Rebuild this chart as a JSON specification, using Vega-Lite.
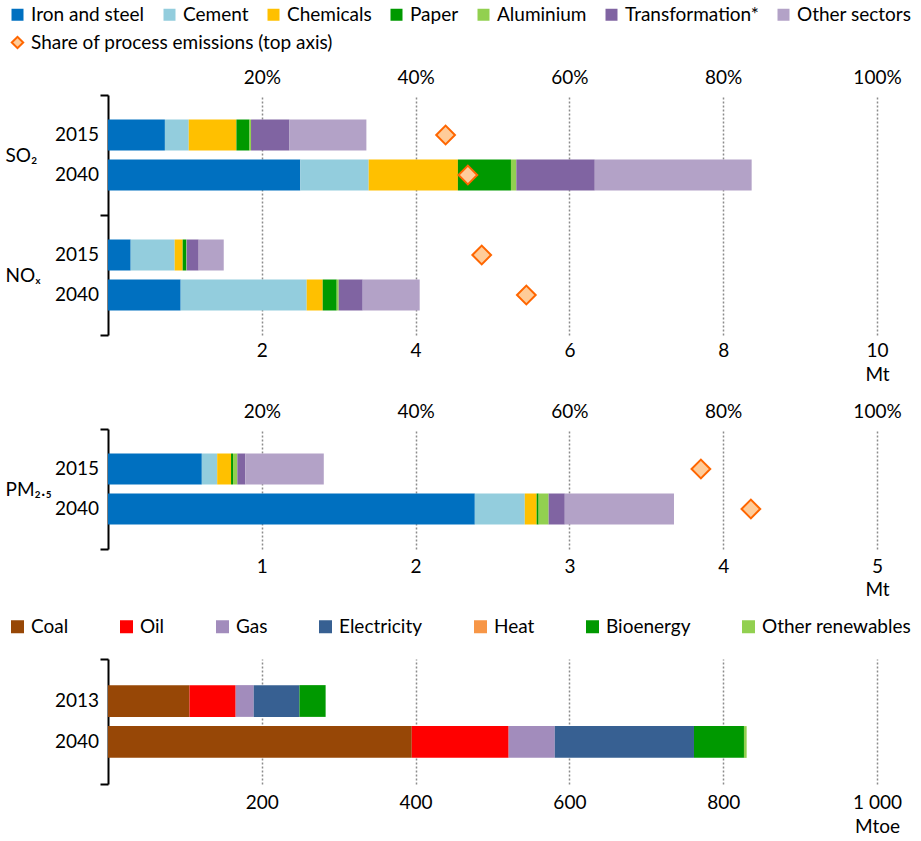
{
  "$schema": "https://vega.github.io/schema/vega-lite/v6.json",
  "background": "white",
  "padding": {"left": 5, "top": 5, "right": 5, "bottom": 0},
  "config": {
    "font": "Lato",
    "view": {"stroke": null},
    "axis": {"labelFont": "Lato", "labelFontSize": 19, "labelColor": "#000", "title": null},
    "legend": {"labelFont": "Lato", "labelFontSize": 19, "labelColor": "#000", "labelLimit": 500},
    "concat": {"spacing": 18}
  },
  "datasets": {
    "emissions": [
      {"pollutant": "SO₂", "year": "2015", "sector": "Iron and steel", "value": 0.74},
      {"pollutant": "SO₂", "year": "2015", "sector": "Cement", "value": 0.31},
      {"pollutant": "SO₂", "year": "2015", "sector": "Chemicals", "value": 0.62},
      {"pollutant": "SO₂", "year": "2015", "sector": "Paper", "value": 0.17},
      {"pollutant": "SO₂", "year": "2015", "sector": "Aluminium", "value": 0.02},
      {"pollutant": "SO₂", "year": "2015", "sector": "Transformation*", "value": 0.5},
      {"pollutant": "SO₂", "year": "2015", "sector": "Other sectors", "value": 1.0},
      {"pollutant": "SO₂", "year": "2040", "sector": "Iron and steel", "value": 2.5},
      {"pollutant": "SO₂", "year": "2040", "sector": "Cement", "value": 0.89},
      {"pollutant": "SO₂", "year": "2040", "sector": "Chemicals", "value": 1.16},
      {"pollutant": "SO₂", "year": "2040", "sector": "Paper", "value": 0.69},
      {"pollutant": "SO₂", "year": "2040", "sector": "Aluminium", "value": 0.07},
      {"pollutant": "SO₂", "year": "2040", "sector": "Transformation*", "value": 1.02},
      {"pollutant": "SO₂", "year": "2040", "sector": "Other sectors", "value": 2.04},
      {"pollutant": "NOₓ", "year": "2015", "sector": "Iron and steel", "value": 0.295},
      {"pollutant": "NOₓ", "year": "2015", "sector": "Cement", "value": 0.572},
      {"pollutant": "NOₓ", "year": "2015", "sector": "Chemicals", "value": 0.104},
      {"pollutant": "NOₓ", "year": "2015", "sector": "Paper", "value": 0.047},
      {"pollutant": "NOₓ", "year": "2015", "sector": "Aluminium", "value": 0.005},
      {"pollutant": "NOₓ", "year": "2015", "sector": "Transformation*", "value": 0.156},
      {"pollutant": "NOₓ", "year": "2015", "sector": "Other sectors", "value": 0.326},
      {"pollutant": "NOₓ", "year": "2040", "sector": "Iron and steel", "value": 0.945},
      {"pollutant": "NOₓ", "year": "2040", "sector": "Cement", "value": 1.639},
      {"pollutant": "NOₓ", "year": "2040", "sector": "Chemicals", "value": 0.208},
      {"pollutant": "NOₓ", "year": "2040", "sector": "Paper", "value": 0.182},
      {"pollutant": "NOₓ", "year": "2040", "sector": "Aluminium", "value": 0.026},
      {"pollutant": "NOₓ", "year": "2040", "sector": "Transformation*", "value": 0.312},
      {"pollutant": "NOₓ", "year": "2040", "sector": "Other sectors", "value": 0.741},
      {"pollutant": "PM₂.₅", "year": "2015", "sector": "Iron and steel", "value": 0.61},
      {"pollutant": "PM₂.₅", "year": "2015", "sector": "Cement", "value": 0.1},
      {"pollutant": "PM₂.₅", "year": "2015", "sector": "Chemicals", "value": 0.09},
      {"pollutant": "PM₂.₅", "year": "2015", "sector": "Paper", "value": 0.013},
      {"pollutant": "PM₂.₅", "year": "2015", "sector": "Aluminium", "value": 0.028},
      {"pollutant": "PM₂.₅", "year": "2015", "sector": "Transformation*", "value": 0.052},
      {"pollutant": "PM₂.₅", "year": "2015", "sector": "Other sectors", "value": 0.51},
      {"pollutant": "PM₂.₅", "year": "2040", "sector": "Iron and steel", "value": 2.385},
      {"pollutant": "PM₂.₅", "year": "2040", "sector": "Cement", "value": 0.325},
      {"pollutant": "PM₂.₅", "year": "2040", "sector": "Chemicals", "value": 0.077},
      {"pollutant": "PM₂.₅", "year": "2040", "sector": "Paper", "value": 0.013},
      {"pollutant": "PM₂.₅", "year": "2040", "sector": "Aluminium", "value": 0.065},
      {"pollutant": "PM₂.₅", "year": "2040", "sector": "Transformation*", "value": 0.105},
      {"pollutant": "PM₂.₅", "year": "2040", "sector": "Other sectors", "value": 0.71}
    ],
    "shares": [
      {"pollutant": "SO₂", "year": "2015", "share": 43.9},
      {"pollutant": "SO₂", "year": "2040", "share": 46.8},
      {"pollutant": "NOₓ", "year": "2015", "share": 48.6},
      {"pollutant": "NOₓ", "year": "2040", "share": 54.4},
      {"pollutant": "PM₂.₅", "year": "2015", "share": 77.1},
      {"pollutant": "PM₂.₅", "year": "2040", "share": 83.6}
    ],
    "energy": [
      {"year": "2013", "fuel": "Coal", "value": 106},
      {"year": "2013", "fuel": "Oil", "value": 60},
      {"year": "2013", "fuel": "Gas", "value": 23.5},
      {"year": "2013", "fuel": "Electricity", "value": 59.5},
      {"year": "2013", "fuel": "Heat", "value": 0},
      {"year": "2013", "fuel": "Bioenergy", "value": 34},
      {"year": "2013", "fuel": "Other renewables", "value": 0},
      {"year": "2040", "fuel": "Coal", "value": 395},
      {"year": "2040", "fuel": "Oil", "value": 126},
      {"year": "2040", "fuel": "Gas", "value": 60},
      {"year": "2040", "fuel": "Electricity", "value": 181},
      {"year": "2040", "fuel": "Heat", "value": 0},
      {"year": "2040", "fuel": "Bioenergy", "value": 65},
      {"year": "2040", "fuel": "Other renewables", "value": 3.5}
    ]
  },
  "resolve": {
    "scale": {"color": "independent", "x": "independent", "y": "independent", "shape": "independent", "fill": "independent", "stroke": "independent", "yOffset": "independent"},
    "legend": {"color": "independent", "shape": "independent", "fill": "independent", "stroke": "independent"}
  },
  "vconcat": [
    {
      "width": 769,
      "height": 240,
      "layer": [
        {
          "data": {"name": "emissions"},
          "transform": [
            {"filter": {"field": "pollutant", "oneOf": ["SO₂", "NOₓ"]}},
            {"calculate": "indexof(['Iron and steel','Cement','Chemicals','Paper','Aluminium','Transformation*','Other sectors'], datum.sector)", "as": "k"}
          ],
          "mark": {"type": "bar"},
          "encoding": {
            "y": {"field": "pollutant", "type": "nominal", "sort": ["SO₂", "NOₓ"],
              "scale": {"paddingInner": 0, "paddingOuter": 0},
              "axis": {"orient": "left", "domain": true, "domainColor": "#000", "domainWidth": 2, "ticks": true, "tickBand": "extent", "tickColor": "#000", "tickWidth": 2, "tickSize": 8, "labelAlign": "left", "labelPadding": 95, "labelFontSize": 19, "grid": false, "title": null}},
            "yOffset": {"field": "year", "type": "nominal", "scale": {"paddingInner": 0.225, "paddingOuter": 0.6125}},
            "x": {"field": "value", "type": "quantitative", "stack": "zero", "scale": {"domain": [0, 10], "nice": false},
              "axis": {"orient": "bottom", "values": [2, 4, 6, 8, 10], "labelExpr": "datum.value == 10 ? ['10', 'Mt'] : datum.label", "ticks": false, "domain": false, "grid": true, "gridColor": "#8c8c8c", "gridDash": [2, 2], "gridWidth": 1.5, "labelPadding": 6, "labelLineHeight": 24, "labelFlush": false, "labelOverlap": false, "title": null}},
            "color": {"field": "sector", "type": "nominal",
              "scale": {"domain": ["Iron and steel", "Cement", "Chemicals", "Paper", "Aluminium", "Transformation*", "Other sectors"],
                "range": ["#0070C0", "#93CDDD", "#FFC000", "#009900", "#92D050", "#8064A2", "#B3A2C7"]},
              "legend": {"orient": "none", "legendX": -100, "legendY": -90, "title": null, "direction": "horizontal", "columns": 7, "columnPadding": 15, "symbolType": "square", "symbolSize": 144, "symbolStrokeWidth": 0, "labelOffset": 4}},
            "order": {"field": "k", "type": "quantitative"}
          }
        },
        {
          "data": {"name": "shares"},
          "transform": [{"filter": {"field": "pollutant", "oneOf": ["SO₂", "NOₓ"]}}],
          "mark": {"type": "point", "filled": true, "strokeWidth": 2, "size": 350, "opacity": 1},
          "encoding": {
            "y": {"field": "pollutant", "type": "nominal", "sort": ["SO₂", "NOₓ"]},
            "yOffset": {"field": "year", "type": "nominal"},
            "x": {"field": "share", "type": "quantitative", "scale": {"domain": [0, 100], "nice": false},
              "axis": {"orient": "top", "values": [20, 40, 60, 80, 100], "labelExpr": "datum.value + '%'", "ticks": false, "domain": false, "grid": false, "labelPadding": 8, "labelFlush": false, "labelOverlap": false, "title": null}},
            "shape": {"datum": "Share of process emissions (top axis)", "type": "nominal", "scale": {"range": ["diamond"]},
              "legend": {"orient": "none", "legendX": -100, "legendY": -62, "title": null, "symbolStrokeWidth": 2, "symbolSize": 130, "labelOffset": 4}},
            "fill": {"datum": "Share of process emissions (top axis)", "type": "nominal", "scale": {"range": ["#FFCC99"]},
              "legend": {"orient": "none", "legendX": -100, "legendY": -62, "title": null, "symbolStrokeWidth": 2, "symbolSize": 130, "labelOffset": 4}},
            "stroke": {"datum": "Share of process emissions (top axis)", "type": "nominal", "scale": {"range": ["#FF6600"]},
              "legend": {"orient": "none", "legendX": -100, "legendY": -62, "title": null, "symbolStrokeWidth": 2, "symbolSize": 130, "labelOffset": 4}}
          }
        },
        {
          "data": {"name": "shares"},
          "transform": [{"filter": {"field": "pollutant", "oneOf": ["SO₂", "NOₓ"]}}],
          "mark": {"type": "text", "align": "right", "baseline": "middle", "dx": -9, "fontSize": 19, "font": "Lato", "color": "#000"},
          "encoding": {
            "y": {"field": "pollutant", "type": "nominal", "sort": ["SO₂", "NOₓ"]},
            "yOffset": {"field": "year", "type": "nominal"},
            "x": {"datum": 0, "type": "quantitative", "scale": {"domain": [0, 10], "nice": false}, "axis": null},
            "text": {"field": "year"}
          }
        }
      ],
      "resolve": {"scale": {"x": "independent"}, "axis": {"x": "independent"}}
    },
    {
      "width": 769,
      "height": 120,
      "layer": [
        {
          "data": {"name": "emissions"},
          "transform": [
            {"filter": {"field": "pollutant", "equal": "PM₂.₅"}},
            {"calculate": "indexof(['Iron and steel','Cement','Chemicals','Paper','Aluminium','Transformation*','Other sectors'], datum.sector)", "as": "k"}
          ],
          "mark": {"type": "bar"},
          "encoding": {
            "y": {"field": "pollutant", "type": "nominal",
              "scale": {"paddingInner": 0, "paddingOuter": 0},
              "axis": {"orient": "left", "domain": true, "domainColor": "#000", "domainWidth": 2, "ticks": true, "tickBand": "extent", "tickColor": "#000", "tickWidth": 2, "tickSize": 8, "labelAlign": "left", "labelPadding": 95, "labelFontSize": 19, "grid": false, "title": null}},
            "yOffset": {"field": "year", "type": "nominal", "scale": {"paddingInner": 0.225, "paddingOuter": 0.6125}},
            "x": {"field": "value", "type": "quantitative", "stack": "zero", "scale": {"domain": [0, 5], "nice": false},
              "axis": {"orient": "bottom", "values": [1, 2, 3, 4, 5], "labelExpr": "datum.value == 5 ? ['5', 'Mt'] : datum.label", "ticks": false, "domain": false, "grid": true, "gridColor": "#8c8c8c", "gridDash": [2, 2], "gridWidth": 1.5, "labelPadding": 8, "labelLineHeight": 23, "labelFlush": false, "labelOverlap": false, "title": null}},
            "color": {"field": "sector", "type": "nominal",
              "scale": {"domain": ["Iron and steel", "Cement", "Chemicals", "Paper", "Aluminium", "Transformation*", "Other sectors"],
                "range": ["#0070C0", "#93CDDD", "#FFC000", "#009900", "#92D050", "#8064A2", "#B3A2C7"]},
              "legend": null},
            "order": {"field": "k", "type": "quantitative"}
          }
        },
        {
          "data": {"name": "shares"},
          "transform": [{"filter": {"field": "pollutant", "equal": "PM₂.₅"}}],
          "mark": {"type": "point", "shape": "diamond", "filled": true, "fill": "#FFCC99", "stroke": "#FF6600", "strokeWidth": 2, "size": 350, "opacity": 1},
          "encoding": {
            "y": {"field": "pollutant", "type": "nominal"},
            "yOffset": {"field": "year", "type": "nominal"},
            "x": {"field": "share", "type": "quantitative", "scale": {"domain": [0, 100], "nice": false},
              "axis": {"orient": "top", "values": [20, 40, 60, 80, 100], "labelExpr": "datum.value + '%'", "ticks": false, "domain": false, "grid": false, "labelPadding": 8, "labelFlush": false, "labelOverlap": false, "title": null}}
          }
        },
        {
          "data": {"name": "shares"},
          "transform": [{"filter": {"field": "pollutant", "equal": "PM₂.₅"}}],
          "mark": {"type": "text", "align": "right", "baseline": "middle", "dx": -9, "fontSize": 19, "font": "Lato", "color": "#000"},
          "encoding": {
            "y": {"field": "pollutant", "type": "nominal"},
            "yOffset": {"field": "year", "type": "nominal"},
            "x": {"datum": 0, "type": "quantitative", "scale": {"domain": [0, 5], "nice": false}, "axis": null},
            "text": {"field": "year"}
          }
        }
      ],
      "resolve": {"scale": {"x": "independent"}, "axis": {"x": "independent"}}
    },
    {
      "width": 769,
      "height": 125,
      "layer": [
        {
          "data": {"name": "energy"},
          "transform": [
            {"calculate": "indexof(['Coal','Oil','Gas','Electricity','Heat','Bioenergy','Other renewables'], datum.fuel)", "as": "k"}
          ],
          "mark": {"type": "bar"},
          "encoding": {
            "y": {"datum": "energy", "type": "nominal",
              "scale": {"paddingInner": 0, "paddingOuter": 0},
              "axis": {"orient": "left", "domain": true, "domainColor": "#000", "domainWidth": 2, "ticks": true, "tickBand": "extent", "tickColor": "#000", "tickWidth": 2, "tickSize": 8, "labels": false, "grid": false, "title": null}},
            "yOffset": {"field": "year", "type": "nominal", "scale": {"paddingInner": 0.225, "paddingOuter": 0.6375}},
            "x": {"field": "value", "type": "quantitative", "stack": "zero", "scale": {"domain": [0, 1000], "nice": false},
              "axis": {"orient": "bottom", "values": [200, 400, 600, 800, 1000], "labelExpr": "datum.value == 1000 ? ['1 000', 'Mtoe'] : datum.label", "ticks": false, "domain": false, "grid": true, "gridColor": "#8c8c8c", "gridDash": [2, 2], "gridWidth": 1.5, "labelPadding": 9, "labelLineHeight": 24, "labelFlush": false, "labelOverlap": false, "title": null}},
            "color": {"field": "fuel", "type": "nominal",
              "scale": {"domain": ["Coal", "Oil", "Gas", "Electricity", "Heat", "Bioenergy", "Other renewables"],
                "range": ["#974706", "#FF0000", "#A28CBC", "#376092", "#F79646", "#009900", "#92D050"]},
              "legend": {"orient": "none", "legendX": -100, "legendY": -42, "title": null, "direction": "horizontal", "columns": 7, "columnPadding": 48, "symbolType": "square", "symbolSize": 169, "symbolStrokeWidth": 0, "labelOffset": 4}},
            "order": {"field": "k", "type": "quantitative"}
          }
        },
        {
          "data": {"name": "energy"},
          "transform": [{"aggregate": [{"op": "sum", "field": "value", "as": "total"}], "groupby": ["year"]}],
          "mark": {"type": "text", "align": "right", "baseline": "middle", "dx": -9, "fontSize": 19, "font": "Lato", "color": "#000"},
          "encoding": {
            "y": {"datum": "energy", "type": "nominal"},
            "yOffset": {"field": "year", "type": "nominal"},
            "x": {"datum": 0, "type": "quantitative"},
            "text": {"field": "year"}
          }
        }
      ]
    }
  ]
}
